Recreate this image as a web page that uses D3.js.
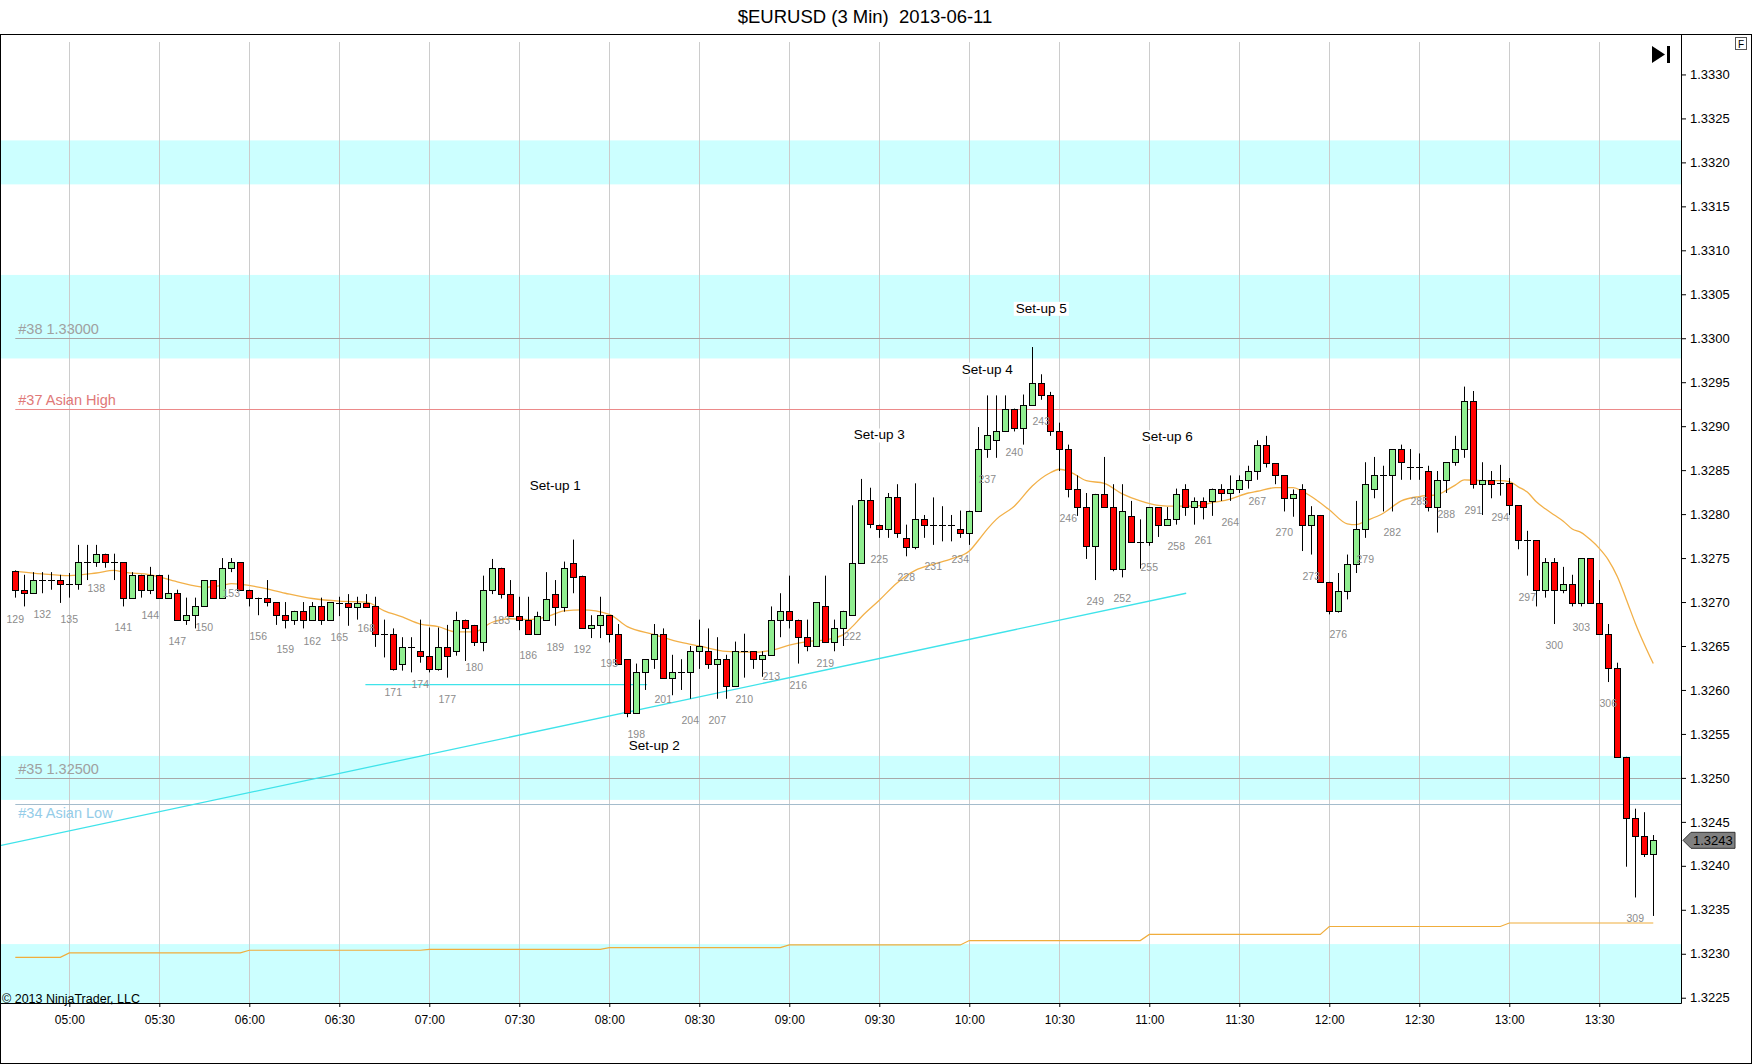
<!DOCTYPE html>
<html>
<head>
<meta charset="utf-8">
<script src="https://cdn.jsdelivr.net/npm/d3@7"></script>
<style>
body { margin: 0; background: #fff; }
svg { display: block; font-family: Arial, "Liberation Sans", sans-serif; }
</style>
</head>
<body>
<svg id="chart" width="1752" height="1064"></svg>
<script>
// bar numbers start here, one bar every 3 minutes
var firstBar = 129;

var opens = [
  1.32735,1.32714,1.32710,1.32725,1.32725,1.32725,1.32720,1.32720,1.32745,1.32745,
  1.32755,1.32745,1.32745,1.32705,1.32731,1.32714,1.32731,1.32705,1.32710,1.32680,
  1.32685,1.32695,1.32725,1.32705,1.32739,1.32745,1.32714,1.32705,1.32705,1.32700,
  1.32685,1.32680,1.32690,1.32680,1.32695,1.32680,1.32699,1.32699,1.32694,1.32699,
  1.32695,1.32664,1.32664,1.32630,1.32649,1.32644,1.32639,1.32624,1.32649,1.32644,
  1.32680,1.32674,1.32654,1.32714,1.32739,1.32709,1.32684,1.32680,1.32664,1.32680,
  1.32709,1.32694,1.32744,1.32730,1.32670,1.32674,1.32685,1.32664,1.32635,1.32574,
  1.32620,1.32635,1.32664,1.32614,1.32620,1.32620,1.32644,1.32644,1.32630,1.32635,
  1.32605,1.32644,1.32644,1.32635,1.32640,1.32680,1.32690,1.32680,1.32660,1.32650,
  1.32695,1.32655,1.32670,1.32685,1.32744,1.32816,1.32788,1.32783,1.32819,1.32773,
  1.32763,1.32794,1.32788,1.32788,1.32788,1.32783,1.32779,1.32804,1.32874,1.32884,
  1.32895,1.32920,1.32898,1.32924,1.32949,1.32935,1.32894,1.32874,1.32829,1.32808,
  1.32764,1.32823,1.32808,1.32738,1.32798,1.32768,1.32768,1.32808,1.32788,1.32794,
  1.32829,1.32808,1.32815,1.32815,1.32829,1.32824,1.32829,1.32839,1.32849,1.32879,
  1.32858,1.32844,1.32818,1.32829,1.32788,1.32799,1.32723,1.32690,1.32713,1.32743,
  1.32783,1.32829,1.32844,1.32844,1.32874,1.32854,1.32854,1.32849,1.32808,1.32839,
  1.32859,1.32874,1.32929,1.32834,1.32839,1.32835,1.32835,1.32810,1.32770,1.32770,
  1.32714,1.32746,1.32714,1.32720,1.32699,1.32750,1.32699,1.32664,1.32625,1.32524,
  1.32454,1.32434,1.32414
];
var highs = [
  1.32736,1.32731,1.32734,1.32734,1.32734,1.32731,1.32733,1.32765,1.32765,1.32765,
  1.32755,1.32755,1.32745,1.32734,1.32731,1.32740,1.32731,1.32731,1.32714,1.32705,
  1.32705,1.32725,1.32725,1.32750,1.32750,1.32745,1.32714,1.32705,1.32725,1.32700,
  1.32700,1.32690,1.32700,1.32700,1.32705,1.32700,1.32706,1.32709,1.32706,1.32709,
  1.32706,1.32680,1.32670,1.32660,1.32660,1.32680,1.32671,1.32671,1.32674,1.32689,
  1.32680,1.32674,1.32730,1.32749,1.32739,1.32725,1.32706,1.32706,1.32689,1.32734,
  1.32725,1.32746,1.32771,1.32730,1.32685,1.32706,1.32685,1.32675,1.32635,1.32630,
  1.32635,1.32675,1.32670,1.32640,1.32635,1.32650,1.32680,1.32670,1.32660,1.32640,
  1.32655,1.32664,1.32644,1.32644,1.32695,1.32710,1.32730,1.32680,1.32680,1.32700,
  1.32730,1.32680,1.32690,1.32810,1.32840,1.32830,1.32788,1.32824,1.32834,1.32788,
  1.32835,1.32799,1.32819,1.32809,1.32799,1.32804,1.32804,1.32899,1.32935,1.32935,
  1.32935,1.32920,1.32936,1.32990,1.32959,1.32939,1.32904,1.32879,1.32844,1.32824,
  1.32823,1.32865,1.32834,1.32834,1.32815,1.32794,1.32808,1.32808,1.32808,1.32829,
  1.32834,1.32819,1.32819,1.32829,1.32834,1.32844,1.32844,1.32855,1.32884,1.32889,
  1.32858,1.32844,1.32828,1.32834,1.32809,1.32799,1.32723,1.32733,1.32754,1.32815,
  1.32859,1.32865,1.32855,1.32874,1.32879,1.32874,1.32869,1.32855,1.32849,1.32859,
  1.32889,1.32945,1.32940,1.32859,1.32849,1.32856,1.32841,1.32810,1.32781,1.32770,
  1.32750,1.32750,1.32740,1.32731,1.32750,1.32750,1.32725,1.32675,1.32631,1.32524,
  1.32465,1.32461,1.32435
];
var lows = [
  1.32705,1.32695,1.32710,1.32710,1.32714,1.32699,1.32705,1.32714,1.32725,1.32740,
  1.32739,1.32725,1.32695,1.32705,1.32705,1.32709,1.32705,1.32705,1.32680,1.32674,
  1.32670,1.32695,1.32705,1.32705,1.32734,1.32714,1.32695,1.32685,1.32695,1.32674,
  1.32670,1.32674,1.32670,1.32680,1.32674,1.32680,1.32684,1.32673,1.32680,1.32694,
  1.32649,1.32637,1.32622,1.32622,1.32620,1.32631,1.32620,1.32622,1.32614,1.32639,
  1.32633,1.32650,1.32644,1.32709,1.32704,1.32684,1.32668,1.32664,1.32664,1.32680,
  1.32673,1.32689,1.32710,1.32670,1.32659,1.32659,1.32654,1.32630,1.32569,1.32574,
  1.32600,1.32624,1.32614,1.32594,1.32600,1.32590,1.32624,1.32624,1.32590,1.32590,
  1.32605,1.32614,1.32624,1.32615,1.32640,1.32660,1.32670,1.32630,1.32644,1.32650,
  1.32655,1.32644,1.32650,1.32685,1.32744,1.32784,1.32773,1.32773,1.32773,1.32752,
  1.32760,1.32773,1.32765,1.32769,1.32769,1.32773,1.32765,1.32804,1.32864,1.32864,
  1.32895,1.32894,1.32879,1.32924,1.32930,1.32889,1.32849,1.32819,1.32798,1.32749,
  1.32725,1.32808,1.32735,1.32728,1.32768,1.32738,1.32764,1.32774,1.32788,1.32788,
  1.32798,1.32788,1.32794,1.32798,1.32815,1.32815,1.32824,1.32829,1.32839,1.32853,
  1.32834,1.32803,1.32797,1.32758,1.32754,1.32723,1.32686,1.32688,1.32703,1.32733,
  1.32773,1.32818,1.32803,1.32803,1.32839,1.32839,1.32839,1.32803,1.32779,1.32824,
  1.32855,1.32864,1.32829,1.32799,1.32818,1.32821,1.32799,1.32760,1.32730,1.32695,
  1.32705,1.32675,1.32710,1.32695,1.32695,1.32699,1.32664,1.32609,1.32524,1.32399,
  1.32364,1.32410,1.32343
];
var closes = [
  1.32714,1.32710,1.32725,1.32725,1.32725,1.32720,1.32720,1.32745,1.32745,1.32755,
  1.32745,1.32745,1.32705,1.32731,1.32714,1.32731,1.32705,1.32710,1.32680,1.32685,
  1.32695,1.32725,1.32705,1.32739,1.32745,1.32714,1.32705,1.32705,1.32700,1.32685,
  1.32680,1.32690,1.32680,1.32695,1.32680,1.32700,1.32699,1.32694,1.32699,1.32694,
  1.32664,1.32664,1.32624,1.32649,1.32649,1.32639,1.32624,1.32649,1.32639,1.32680,
  1.32670,1.32654,1.32714,1.32739,1.32709,1.32684,1.32680,1.32664,1.32684,1.32704,
  1.32694,1.32739,1.32729,1.32670,1.32674,1.32685,1.32664,1.32630,1.32574,1.32620,
  1.32635,1.32664,1.32614,1.32620,1.32620,1.32644,1.32650,1.32630,1.32635,1.32605,
  1.32644,1.32644,1.32635,1.32640,1.32680,1.32690,1.32680,1.32660,1.32650,1.32700,
  1.32655,1.32670,1.32690,1.32744,1.32816,1.32789,1.32783,1.32819,1.32779,1.32763,
  1.32794,1.32788,1.32788,1.32788,1.32788,1.32779,1.32804,1.32874,1.32890,1.32895,
  1.32920,1.32898,1.32924,1.32949,1.32935,1.32894,1.32874,1.32829,1.32808,1.32764,
  1.32823,1.32808,1.32738,1.32803,1.32768,1.32768,1.32808,1.32788,1.32794,1.32823,
  1.32808,1.32815,1.32808,1.32829,1.32824,1.32829,1.32839,1.32849,1.32879,1.32858,
  1.32844,1.32818,1.32823,1.32788,1.32799,1.32723,1.32690,1.32713,1.32743,1.32783,
  1.32834,1.32844,1.32844,1.32874,1.32859,1.32854,1.32854,1.32808,1.32839,1.32859,
  1.32874,1.32929,1.32834,1.32839,1.32834,1.32835,1.32810,1.32770,1.32770,1.32714,
  1.32746,1.32714,1.32720,1.32699,1.32750,1.32699,1.32664,1.32625,1.32524,1.32454,
  1.32434,1.32414,1.32429
];

// moving average at these bars
var maBars = [129,132,135,138,140,141,144,147,150,152,153,156,159,162,165,168,170,172,174,176,
  178,180,182,184,186,188,190,192,195,197,200,203,205,208,211,213,215,217,219,221,
  222,223,225,227,229,231,233,235,236,237,238,240,242,244,245,246,248,250,252,254,
  256,258,260,262,264,266,267,269,271,272,273,275,277,278,279,281,283,285,287,288,
  289,290,292,294,295,296,297,298,299,300,301,302,303,304,305,306,307,308,309,310,311];
var maValues = [1.32735,1.32732,1.32730,1.32733,1.32736,1.32734,1.32731,1.32723,1.32717,1.32719,
  1.32721,1.32717,1.32710,1.32704,1.32701,1.32700,1.32690,1.32683,1.32675,1.32672,
  1.32666,1.32666,1.32677,1.32681,1.32680,1.32683,1.32690,1.32691,1.32686,1.32672,
  1.32663,1.32654,1.32650,1.32644,1.32643,1.32645,1.32651,1.32655,1.32657,1.32663,
  1.32672,1.32683,1.32702,1.32722,1.32736,1.32743,1.32749,1.32758,1.32770,1.32783,
  1.32794,1.32809,1.32832,1.32847,1.32851,1.32849,1.32838,1.32835,1.32823,1.32815,
  1.32810,1.32809,1.32809,1.32813,1.32817,1.32824,1.32826,1.32830,1.32830,1.32826,
  1.32820,1.32805,1.32789,1.32788,1.32792,1.32801,1.32815,1.32820,1.32822,1.32827,
  1.32833,1.32839,1.32838,1.32838,1.32837,1.32831,1.32825,1.32814,1.32806,1.32799,
  1.32792,1.32783,1.32779,1.32771,1.32761,1.32748,1.32729,1.32703,1.32676,1.32652,1.32630];

// lower hourly step line
var stepBars = [129,135,155,175,195,215,235,255,275,295];
var stepValues = [1.32296,1.32301,1.32304,1.32305,1.32307,1.32310,1.32315,1.32322,1.32331,1.32335];

var timeBars = [135,145,155,165,175,185,195,205,215,225,235,245,255,265,275,285,295,305];
var timeLabels = ["05:00","05:30","06:00","06:30","07:00","07:30","08:00","08:30","09:00",
  "09:30","10:00","10:30","11:00","11:30","12:00","12:30","13:00","13:30"];

var priceTicks = [1.3225,1.3230,1.3235,1.3240,1.3245,1.3250,1.3255,1.3260,1.3265,1.3270,1.3275,
  1.3280,1.3285,1.3290,1.3295,1.3300,1.3305,1.3310,1.3315,1.3320,1.3325,1.3330];

var zoneLows = [1.33175,1.32977,1.32475,1.32200];
var zoneHighs = [1.33225,1.33072,1.32525,1.32311];

var levelNames = ["#38 1.33000","#37 Asian High","#35 1.32500","#34 Asian Low"];
var levelValues = [1.33000,1.32920,1.32500,1.32470];
var levelBelow = [false,false,false,true];
var levelLineColors = ["#a8a8a8","#ec8a8a","#a8a8a8","#a4bccc"];
var levelTextColors = ["#a0a0a0","#e07878","#a0a0a0","#94cce8"];

var trendBars = [[167.9,199.2],[127.3,259.1]];
var trendPrices = [[1.32606,1.32606],[1.32423,1.32710]];

var setupNames = ["Set-up 1","Set-up 2","Set-up 3","Set-up 4","Set-up 5","Set-up 6"];
var setupBars = [189,200,225,237,243,257];
var setupPrices = [1.32833,1.32537,1.32890,1.32965,1.33034,1.32888];

var svg = d3.select("#chart");
var plotLeft = 0, plotRight = 1681, plotTop = 34, plotBottom = 1003;

var x = d3.scaleLinear().domain([127.3, 314.08]).range([plotLeft, plotRight]);
var y = d3.scaleLinear().domain([1.32244, 1.33346]).range([plotBottom, plotTop]);

var bars = opens.map(function(o, i){
    return {bar: firstBar + i, o: o, h: highs[i], l: lows[i], c: closes[i]};
});
var lastBar = firstBar + bars.length - 1;

svg.append("rect").attr("width", 1752).attr("height", 1064).attr("fill", "#fff");

svg.append("defs").append("clipPath").attr("id", "plot")
  .append("rect").attr("x", plotLeft).attr("y", plotTop)
  .attr("width", plotRight - plotLeft).attr("height", plotBottom - plotTop);

var plot = svg.append("g").attr("clip-path", "url(#plot)");

// zones
plot.selectAll(".zone").data(zoneLows).enter().append("rect")
  .attr("x", plotLeft).attr("width", plotRight - plotLeft)
  .attr("y", function(d, i){ return y(zoneHighs[i]); })
  .attr("height", function(d, i){ return y(d) - y(zoneHighs[i]); })
  .attr("fill", "#ccffff");

// vertical grid
plot.selectAll(".grid").data(timeBars).enter().append("line")
  .attr("x1", function(d){ return Math.round(x(d)) + 0.5; })
  .attr("x2", function(d){ return Math.round(x(d)) + 0.5; })
  .attr("y1", 42).attr("y2", plotBottom)
  .attr("stroke", "#cccccc").attr("stroke-width", 1);

// horizontal levels
levelValues.forEach(function(v, i){
    var yy = Math.round(y(v)) + 0.5;
    plot.append("line")
      .attr("x1", x(firstBar)).attr("x2", plotRight)
      .attr("y1", yy).attr("y2", yy)
      .attr("stroke", levelLineColors[i]).attr("stroke-width", 1);
    plot.append("text")
      .attr("x", x(firstBar) + 3).attr("y", levelBelow[i] ? yy + 13 : yy - 5)
      .attr("font-size", "14.5px").attr("fill", levelTextColors[i])
      .text(levelNames[i]);
});

// step line
var stepPts = [];
stepBars.forEach(function(b, k){
    var end = k < stepBars.length - 1 ? stepBars[k + 1] - 1 : lastBar;
    stepPts.push([b, stepValues[k]]);
    stepPts.push([end, stepValues[k]]);
});
var line = d3.line().x(function(d){ return x(d[0]); }).y(function(d){ return y(d[1]); });
plot.append("path").attr("d", line(stepPts))
  .attr("fill", "none").attr("stroke", "#f0ad3c").attr("stroke-width", 1.2);

// moving average
var maPts = maBars.map(function(b, i){ return [b, maValues[i]]; });
plot.append("path").attr("d", line.curve(d3.curveMonotoneX)(maPts))
  .attr("fill", "none").attr("stroke", "#f2b048").attr("stroke-width", 1.3);
line.curve(d3.curveLinear);

// trend lines
trendBars.forEach(function(tb, i){
    plot.append("line")
      .attr("x1", x(tb[0])).attr("x2", x(tb[1]))
      .attr("y1", y(trendPrices[i][0])).attr("y2", y(trendPrices[i][1]))
      .attr("stroke", "#3fe3ea").attr("stroke-width", 1.3);
});

// candles
var candles = plot.selectAll(".candle").data(bars).enter().append("g");
candles.append("line")
  .attr("x1", function(d){ return Math.round(x(d.bar)) + 0.5; })
  .attr("x2", function(d){ return Math.round(x(d.bar)) + 0.5; })
  .attr("y1", function(d){ return y(d.h); })
  .attr("y2", function(d){ return y(d.l); })
  .attr("stroke", "#000").attr("stroke-width", 1);
candles.each(function(d){
    var g = d3.select(this);
    var cx = Math.round(x(d.bar));
    var top = y(Math.max(d.o, d.c)), bot = y(Math.min(d.o, d.c));
    if (bot - top < 1.5) {
        var yy = Math.round(top) + 0.5;
        g.append("line").attr("x1", cx - 3).attr("x2", cx + 4)
          .attr("y1", yy).attr("y2", yy).attr("stroke", "#000");
    } else {
        g.append("rect")
          .attr("x", cx - 2.5).attr("width", 6)
          .attr("y", Math.round(top) + 0.5).attr("height", Math.round(bot) - Math.round(top))
          .attr("fill", d.c >= d.o ? "#90ee90" : "#ff0000")
          .attr("stroke", "#000").attr("stroke-width", 1);
    }
});

// bar numbers
plot.selectAll(".barnum").data(bars.filter(function(d){ return d.bar % 3 === 0; }))
  .enter().append("text")
  .attr("x", function(d){ return x(d.bar); })
  .attr("y", function(d){ return y(d.l) + 25; })
  .attr("text-anchor", "middle")
  .attr("font-size", "10.5px").attr("fill", "#8c8c8c")
  .text(function(d){ return d.bar; });

// set-up notes
setupNames.forEach(function(name, i){
    var g = plot.append("g");
    var t = g.append("text")
      .attr("x", x(setupBars[i])).attr("y", y(setupPrices[i]) + 4.5)
      .attr("text-anchor", "middle").attr("font-size", "13.5px").attr("fill", "#000")
      .text(name);
    var bb = t.node().getBBox();
    g.insert("rect", "text")
      .attr("x", bb.x - 2).attr("y", bb.y + 1)
      .attr("width", bb.width + 4).attr("height", bb.height - 1)
      .attr("fill", "#fff");
});

// axes
var xAxis = d3.axisBottom(x).tickValues(timeBars)
  .tickFormat(function(d, i){ return timeLabels[i]; })
  .tickSize(4).tickPadding(8);
svg.append("g").attr("transform", "translate(0," + plotBottom + ")").call(xAxis)
  .call(function(g){ g.select(".domain").remove(); })
  .selectAll("text").attr("font-size", "12px").attr("font-family", "Arial, 'Liberation Sans', sans-serif");

var yAxis = d3.axisRight(y).tickValues(priceTicks)
  .tickFormat(d3.format(".4f")).tickSize(5).tickPadding(4);
svg.append("g").attr("transform", "translate(" + plotRight + ",0)").call(yAxis)
  .call(function(g){ g.select(".domain").remove(); })
  .selectAll("text").attr("font-size", "13px").attr("font-family", "Arial, 'Liberation Sans', sans-serif");

// frame lines
svg.append("line").attr("x1", 0).attr("x2", plotRight + 0.5)
  .attr("y1", plotBottom + 0.5).attr("y2", plotBottom + 0.5).attr("stroke", "#000");
svg.append("line").attr("x1", plotRight + 0.5).attr("x2", plotRight + 0.5)
  .attr("y1", plotTop).attr("y2", plotBottom + 0.5).attr("stroke", "#000");
svg.append("rect").attr("x", 0.5).attr("y", plotTop + 0.5)
  .attr("width", 1751).attr("height", 1063 - plotTop)
  .attr("fill", "none").attr("stroke", "#000").attr("stroke-width", 1);

// last price marker
var lastClose = closes[closes.length - 1];
var ly = y(lastClose);
svg.append("path")
  .attr("d", "M" + (plotRight + 2) + "," + ly + " L" + (plotRight + 10) + "," + (ly - 8) +
    " L" + (plotRight + 54) + "," + (ly - 8) + " L" + (plotRight + 54) + "," + (ly + 8) +
    " L" + (plotRight + 10) + "," + (ly + 8) + " Z")
  .attr("fill", "#808080").attr("stroke", "#333");
svg.append("text").attr("x", plotRight + 12).attr("y", ly + 4.5)
  .attr("font-size", "13px").attr("fill", "#000")
  .text(d3.format(".4f")(lastClose));

// title
svg.append("text").attr("x", 865).attr("y", 23)
  .attr("text-anchor", "middle").attr("font-size", "18.5px").attr("fill", "#000")
  .style("white-space", "pre")
  .text("$EURUSD (3 Min)  2013-06-11");

// copyright
svg.append("text").attr("x", 2).attr("y", 1003)
  .attr("font-size", "12.5px").attr("fill", "#000")
  .text("\u00a9 2013 NinjaTrader, LLC");

// scroll-to-end icon and F box
svg.append("path").attr("d", "M1652,46 L1665,54.5 L1652,63 Z").attr("fill", "#000");
svg.append("rect").attr("x", 1667).attr("y", 46).attr("width", 3).attr("height", 17).attr("fill", "#000");
svg.append("rect").attr("x", 1735.5).attr("y", 37.5).attr("width", 11).attr("height", 12)
  .attr("fill", "#fff").attr("stroke", "#555");
svg.append("text").attr("x", 1741).attr("y", 47.5).attr("text-anchor", "middle")
  .attr("font-size", "10px").attr("fill", "#000").text("F");
</script>
</body>
</html>
